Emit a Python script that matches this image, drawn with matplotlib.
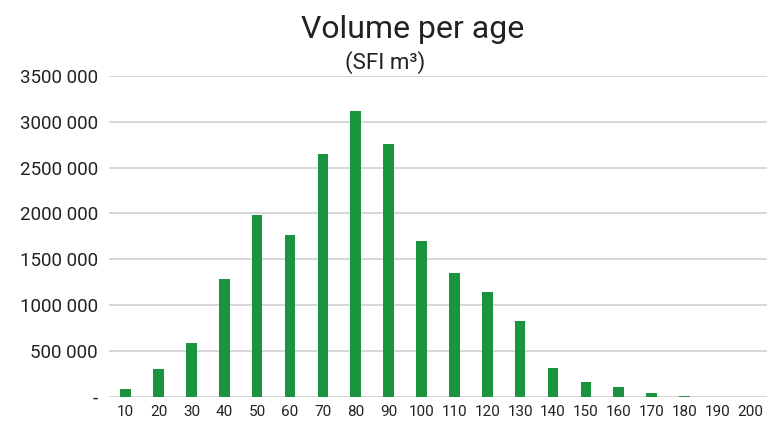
import matplotlib
matplotlib.use("Agg")
import matplotlib.pyplot as plt
from matplotlib.ticker import FuncFormatter, MultipleLocator

ages = [10, 20, 30, 40, 50, 60, 70, 80, 90, 100, 110, 120, 130, 140, 150, 160, 170, 180, 190, 200]
volume = [87000, 305000, 589000, 1287000, 1984000, 1760000, 2650000, 3118000, 2759000, 1701000,
          1352000, 1145000, 829000, 316000, 164000, 109000, 44000, 5000, 0, 0]

plt.rcParams['font.family'] = ['Roboto', 'DejaVu Sans']

fig = plt.figure(figsize=(7.69, 4.24), dpi=100)
ax = fig.add_axes([0.142, 0.064, 0.855, 0.757])

x = list(range(len(ages)))
ax.bar(x, volume, width=0.32, color='#1b9440', zorder=3)

ax.set_xlim(-0.5, len(ages) - 0.5)
ax.set_ylim(0, 3500000)
ax.yaxis.set_major_locator(MultipleLocator(500000))


def fmt(v, pos):
    if v == 0:
        return '-'
    s = f'{int(v):,}'.replace(',', ' ')
    # the chart groups only the last three digits
    head, tail = s.rsplit(' ', 1)
    return head.replace(' ', '') + ' ' + tail


ax.yaxis.set_major_formatter(FuncFormatter(fmt))
ax.set_xticks(x)
ax.set_xticklabels([str(a) for a in ages])
ax.tick_params(axis='both', length=0, colors='#222222')
ax.tick_params(axis='x', pad=6, labelsize=11)
ax.tick_params(axis='y', pad=8, labelsize=13.5)
ax.grid(axis='y', color='#d4d4d4', linewidth=1.3, zorder=0)
for s in ax.spines.values():
    s.set_visible(False)

fig.text(0.536, 0.93, 'Volume per age', ha='center', va='center', fontsize=23, color='#222222')
fig.text(0.501, 0.853, '(SFI m³)', ha='center', va='center', fontsize=16, color='#222222')

fig.savefig('out.png', dpi=100)
